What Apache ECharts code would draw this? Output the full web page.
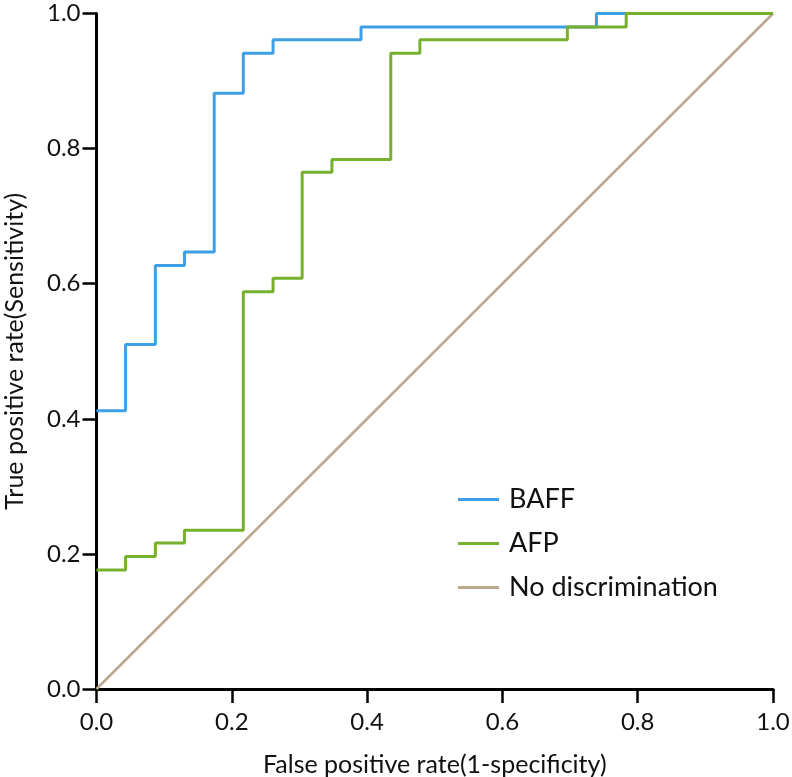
<!DOCTYPE html>
<html>
<head>
<meta charset="utf-8">
<script src="https://cdn.jsdelivr.net/npm/echarts@6/dist/echarts.min.js"></script>
<style>html,body{margin:0;padding:0;background:#fff;}#c{width:792px;height:777px;}</style>
</head>
<body>
<div id="c"></div>
<script>
const xTicks = [0, 0.2, 0.4, 0.6, 0.8, 1.0];
const seriesNames = ['BAFF', 'AFP', 'No discrimination'];
const fprBAFF = [0, 0.043, 0.087, 0.130, 0.174, 0.217, 0.261, 0.391, 0.739, 1.0];
const tprBAFF = [0.412, 0.510, 0.627, 0.647, 0.882, 0.941, 0.961, 0.980, 1.0, 1.0];
const fprAFP = [0, 0.043, 0.087, 0.130, 0.217, 0.261, 0.304, 0.348, 0.435, 0.478, 0.696, 0.783, 1.0];
const tprAFP = [0.176, 0.196, 0.216, 0.235, 0.588, 0.608, 0.765, 0.784, 0.941, 0.961, 0.980, 1.0, 1.0];
const fprRef = [0, 1];
const tprRef = [0, 1];

const zip = (a, b) => a.map((v, i) => [v, b[i]]);
const FONT = 'Lato';
const chart = echarts.init(document.getElementById('c'), null, {renderer: 'canvas'});
const axisCommon = {
  type: 'value', min: 0, max: 1, interval: 0.2,
  axisLine: {show: true, onZero: false, lineStyle: {color: '#000', width: 3}},
  axisTick: {show: true, inside: false, length: 14, lineStyle: {color: '#000', width: 2.5}},
  splitLine: {show: false},
  axisLabel: {color: '#111', fontSize: 24, fontFamily: FONT, formatter: v => v.toFixed(1)},
  nameLocation: 'middle',
  nameTextStyle: {color: '#111', fontSize: 25, fontFamily: FONT}
};
chart.setOption({
  animation: false,
  backgroundColor: '#fff',
  grid: {left: 96.5, right: 19, top: 13.5, bottom: 88, containLabel: false, outerBoundsMode: 'none'},
  xAxis: Object.assign({}, axisCommon, {
    name: 'False positive rate(1-specificity)', nameGap: 63,
    axisLabel: Object.assign({}, axisCommon.axisLabel, {margin: 21})
  }),
  yAxis: Object.assign({}, axisCommon, {
    name: 'True positive rate(Sensitivity)', nameGap: 69,
    axisLabel: Object.assign({}, axisCommon.axisLabel, {margin: 16})
  }),
  legend: {
    data: seriesNames, orient: 'vertical', left: 453, top: 481,
    icon: 'rect', itemWidth: 41, itemHeight: 3, itemGap: 17,
    textStyle: {fontSize: 27, fontFamily: FONT, color: '#111', padding: [0, 0, 0, 5]}
  },
  series: [
    {name: seriesNames[0], type: 'line', step: 'end', showSymbol: false, symbol: 'none',
     data: zip(fprBAFF, tprBAFF), lineStyle: {color: '#3d9fe6', width: 3}, itemStyle: {color: '#3d9fe6'}, z: 3},
    {name: seriesNames[1], type: 'line', step: 'end', showSymbol: false, symbol: 'none',
     data: zip(fprAFP, tprAFP), lineStyle: {color: '#76b02c', width: 3}, itemStyle: {color: '#76b02c'}, z: 4},
    {name: seriesNames[2], type: 'line', showSymbol: false, symbol: 'none',
     data: zip(fprRef, tprRef), lineStyle: {color: '#bca88c', width: 2.5}, itemStyle: {color: '#bca88c'}, z: 2}
  ]
});
</script>
</body>
</html>
